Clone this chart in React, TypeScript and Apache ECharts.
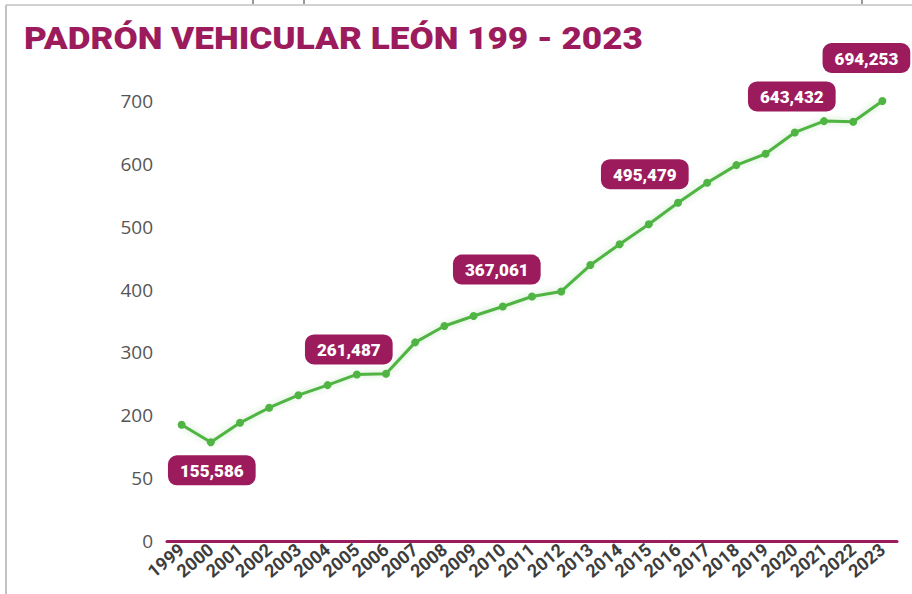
import React, { useEffect, useRef } from "react";
import * as echarts from "echarts";

const years = ["1999","2000","2001","2002","2003","2004","2005","2006","2007","2008","2009","2010","2011","2012","2013","2014","2015","2016","2017","2018","2019","2020","2021","2022","2023"];
// thousands of vehicles
const vehicles = [185, 157, 188, 212, 232, 248, 265, 266, 316, 342, 358, 373, 389, 397, 439, 472, 504, 538, 570, 598, 616, 650, 668, 667, 700];
const calloutYears = ["2000", "2005", "2010", "2015", "2020", "2023"];
const calloutTexts = ["155,586", "261,487", "367,061", "495,479", "643,432", "694,253"];
const yTickLabels: Record<number, string> = { 0: "0", 100: "50", 200: "200", 300: "300", 400: "400", 500: "500", 600: "600", 700: "700" };

const MAGENTA = "#9c1b5d";
const GREEN = "#4fb443";

const calloutPlacement: Record<string, { position: string; distance: number; offset: number[] }> = {
  "2000": { position: "bottom", distance: 9, offset: [1, 0] },
  "2005": { position: "top", distance: 6, offset: [-8, 0] },
  "2010": { position: "top", distance: 18, offset: [-6, 0] },
  "2015": { position: "top", distance: 31, offset: [-4, 0] },
  "2020": { position: "top", distance: 17, offset: [-3, 0] },
  "2023": { position: "top", distance: 24, offset: [-16, 0] },
};

export default function App() {
  const ref = useRef<HTMLDivElement>(null);
  useEffect(() => {
    if (!ref.current) return;
    const chart = echarts.init(ref.current, null, { renderer: "svg" });
    const data = vehicles.map((v, i) => {
      const idx = calloutYears.indexOf(years[i]);
      if (idx < 0) return { value: v };
      const p = calloutPlacement[years[i]];
      return {
        value: v,
        label: {
          show: true,
          position: p.position,
          distance: p.distance,
          offset: p.offset,
          formatter: calloutTexts[idx],
          backgroundColor: MAGENTA,
          borderRadius: 9,
          padding: [6, 12, 5, 12],
          color: "#ffffff",
          fontFamily: "Roboto",
          fontWeight: 900,
          fontSize: 17,
          lineHeight: 19,
        },
      };
    });
    chart.setOption({
      animation: false,
      backgroundColor: "#ffffff",
      grid: { left: 167, right: 15, top: 101, bottom: 53, containLabel: false },
      xAxis: {
        type: "category",
        data: years,
        boundaryGap: true,
        axisLine: { show: true, lineStyle: { color: MAGENTA, width: 3 } },
        axisTick: { show: false },
        axisLabel: {
          interval: 0,
          rotate: 40,
          margin: 6,
          color: "#3d3d3d",
          fontFamily: "Roboto",
          fontWeight: "bold",
          fontSize: 18,
        },
      },
      yAxis: {
        type: "value",
        min: 0,
        max: 700,
        interval: 100,
        axisLine: { show: false },
        axisTick: { show: false },
        splitLine: { show: false },
        axisLabel: {
          margin: 14,
          color: "#555555",
          fontFamily: "Open Sans",
          fontSize: 19,
          formatter: (v: number) => yTickLabels[v] ?? String(v),
        },
      },
      series: [
        {
          type: "line",
          data,
          symbol: "circle",
          symbolSize: 8,
          lineStyle: { color: GREEN, width: 3, shadowColor: "rgba(79,180,67,0.35)", shadowBlur: 6 },
          itemStyle: { color: GREEN },
          z: 3,
        },
      ],
      graphic: [
        { type: "line", shape: { x1: 6, y1: 5, x2: 6, y2: 594 }, style: { stroke: "#c2c2c2", lineWidth: 2 } },
        { type: "line", shape: { x1: 6, y1: 5, x2: 912, y2: 5 }, style: { stroke: "#c2c2c2", lineWidth: 1.5 } },
        { type: "line", shape: { x1: 253, y1: 0, x2: 253, y2: 4 }, style: { stroke: "#333", lineWidth: 1 } },
        { type: "line", shape: { x1: 304, y1: 0, x2: 304, y2: 4 }, style: { stroke: "#333", lineWidth: 1 } },
        { type: "line", shape: { x1: 862, y1: 0, x2: 862, y2: 4 }, style: { stroke: "#333", lineWidth: 1 } },
        {
          type: "text",
          x: 24,
          y: 38,
          scaleX: 1.134,
          style: {
            text: "PADRÓN VEHICULAR LEÓN 199 - 2023",
            fill: MAGENTA,
            font: "900 31px Roboto",
            verticalAlign: "middle",
            align: "left",
          },
        },
      ],
    });
    return () => chart.dispose();
  }, []);
  return (
    <div
      ref={ref}
      style={{ position: "fixed", left: 0, top: 0, width: 912, height: 594, background: "#fff" }}
    />
  );
}
